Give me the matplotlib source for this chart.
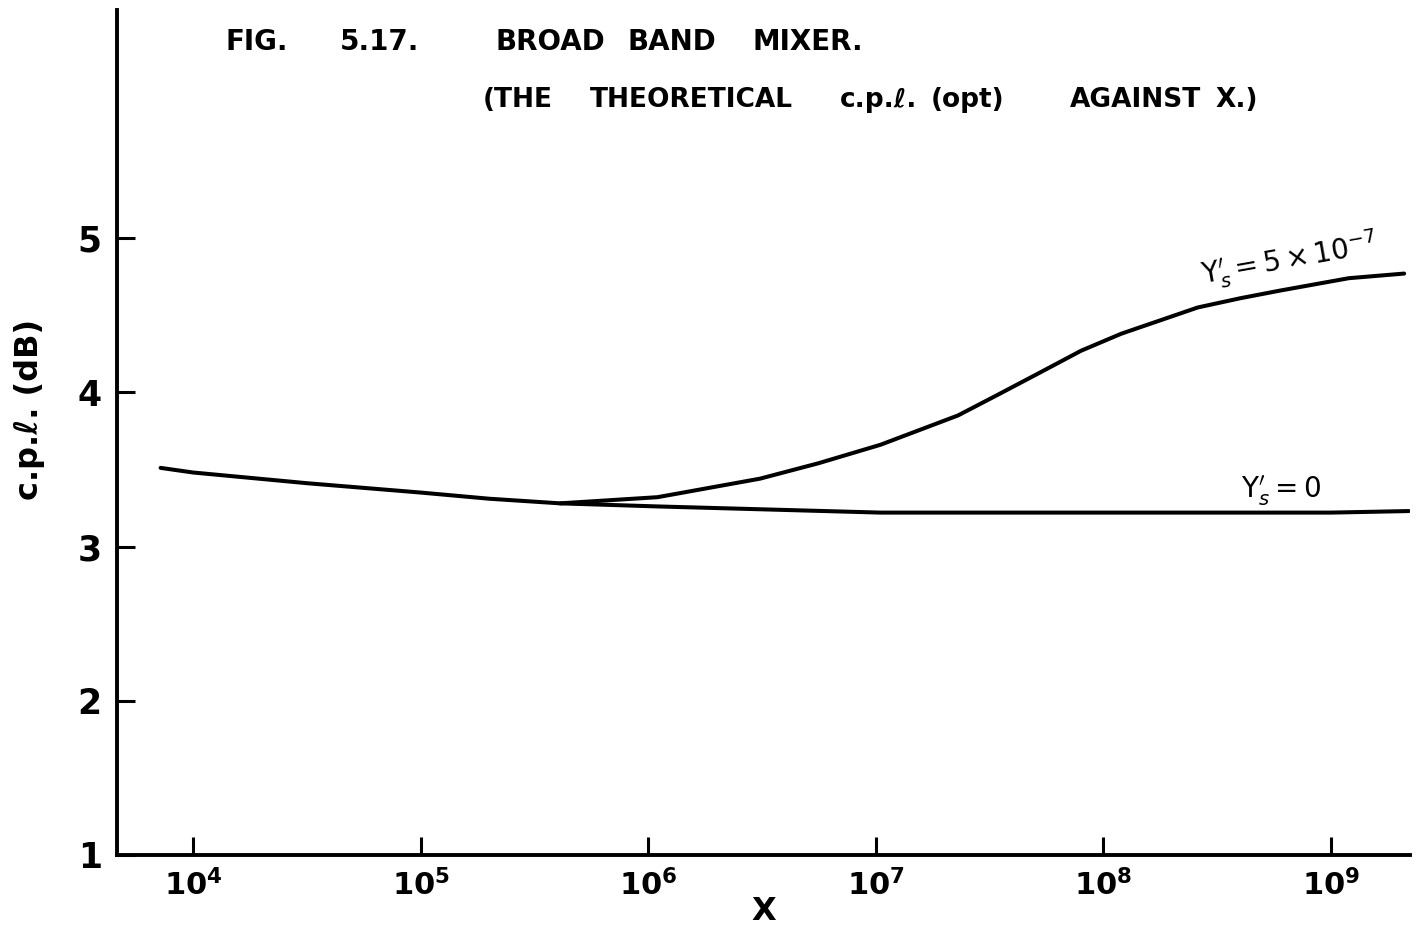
import matplotlib

matplotlib.use("Agg")
import matplotlib.pyplot as plt

# values (X on log scale, c.p.l. in dB)
x_zero = [7.2e3, 1e4, 3.2e4, 1e5, 2e5, 4.1e5, 1.1e6, 1.05e7, 1.1e8, 1e9, 2.2e9]
cpl_zero = [3.51, 3.48, 3.41, 3.35, 3.31, 3.28, 3.26, 3.22, 3.22, 3.22, 3.23]

x_five = [4.1e5, 1.1e6, 3.1e6, 5.6e6, 1.05e7, 2.3e7, 3.5e7, 5.3e7, 8e7, 1.2e8,
          2.6e8, 4e8, 6e8, 1.2e9, 2.1e9]
cpl_five = [3.28, 3.32, 3.44, 3.54, 3.66, 3.85, 3.99, 4.13, 4.27, 4.38,
            4.55, 4.61, 4.66, 4.74, 4.77]

xticks = [1e4, 1e5, 1e6, 1e7, 1e8, 1e9]
xtick_labels = [r"$\mathbf{10^{4}}$", r"$\mathbf{10^{5}}$", r"$\mathbf{10^{6}}$",
                r"$\mathbf{10^{7}}$", r"$\mathbf{10^{8}}$", r"$\mathbf{10^{9}}$"]
yticks = [1, 2, 3, 4, 5]

title_words = [("FIG.", 225), ("5.17.", 340), ("BROAD", 495), ("BAND", 627), ("MIXER.", 752)]
subtitle_words = [("(THE", 483), ("THEORETICAL", 590), ("c.p.ℓ.", 840), ("(opt)", 931),
                  ("AGAINST", 1070), ("X.)", 1215)]

W, H = 1419, 939
fig = plt.figure(figsize=(W / 100, H / 100), dpi=100)
ax = fig.add_axes([0.0825, 0.0895, 0.911, 0.9])

ax.plot(x_zero, cpl_zero, color="black", lw=2.9, solid_capstyle="round", solid_joinstyle="round")
ax.plot(x_five, cpl_five, color="black", lw=2.9, solid_capstyle="round", solid_joinstyle="round")

ax.set_xscale("log")
ax.set_xlim(10 ** 3.666, 10 ** 9.347)
ax.set_ylim(1, 6.48)
ax.set_xticks(xticks)
ax.set_xticklabels(xtick_labels)
ax.minorticks_off()
ax.set_yticks(yticks)
ax.set_yticklabels([str(v) for v in yticks], fontweight="bold")

for side in ("top", "right"):
    ax.spines[side].set_visible(False)
for side in ("left", "bottom"):
    ax.spines[side].set_linewidth(2.8)

ax.tick_params(axis="both", direction="in", length=13, width=2.2, labelsize=22, colors="black")
ax.tick_params(axis="x", pad=10)
ax.tick_params(axis="y", pad=11, labelsize=25)

ax.set_xlabel("X", fontsize=23, fontweight="bold", labelpad=-4)
ax.set_ylabel("c.p.ℓ. (dB)", fontsize=23, fontweight="bold")
ax.yaxis.set_label_coords(-0.056, 0.527)

for word, px in title_words:
    fig.text(px / W, 1 - 42 / H, word, fontsize=20, fontweight="bold", va="center")
for word, px in subtitle_words:
    fig.text(px / W, 1 - 100 / H, word, fontsize=19, fontweight="bold", va="center")

ax.text(10 ** 8.82, 4.86, r"$\Upsilon_s' = 5\times10^{-7}$", fontsize=20, rotation=10,
        ha="center", va="center")
ax.text(10 ** 8.78, 3.36, r"$\Upsilon_s' = 0$", fontsize=20, ha="center", va="center")

fig.savefig("out.png", dpi=100, facecolor="white")
